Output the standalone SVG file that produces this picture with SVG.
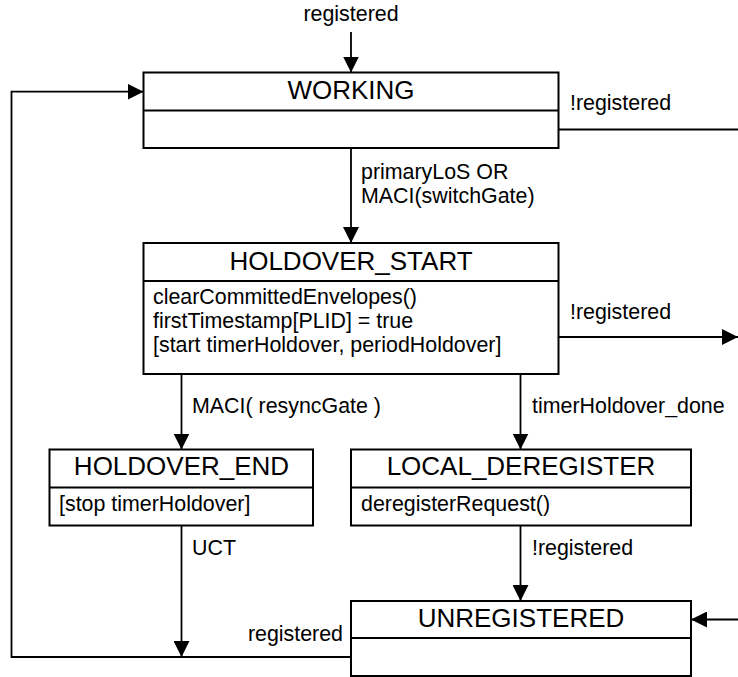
<svg xmlns="http://www.w3.org/2000/svg" width="738" height="677" viewBox="0 0 738 677">
<style>
  .box { fill: #ffffff; stroke: #000000; stroke-width: 2; }
  .div { stroke: #000000; stroke-width: 2; fill: none; }
  .title { font-family: "Liberation Sans", Arial, sans-serif; font-size: 26px; fill: #000000; text-anchor: middle; }
  .txt { font-family: "Liberation Sans", Arial, sans-serif; font-size: 21.4px; fill: #000000; }
  .conn { fill: none; stroke: #000000; stroke-width: 1.8; }
  .arr { marker-end: url(#ah); }
</style>
<defs>
  <marker id="ah" markerUnits="userSpaceOnUse" markerWidth="16" markerHeight="16" viewBox="0 0 16 16" refX="16" refY="8" orient="auto">
    <path d="M0,0 L16,8 L0,16 Z" fill="#000000"/>
  </marker>
</defs>
<rect width="738" height="677" fill="#ffffff"/>

<g id="connectors">
  <path class="conn arr" d="M351,32 L351,72.5"/>
  <path class="conn arr" d="M351,657 L11.5,657 L11.5,91.7 L143.5,91.7"/>
  <path class="conn" d="M558.5,129.5 L738,129.5"/>
  <path class="conn arr" d="M351,148 L351,243"/>
  <path class="conn arr" d="M558.5,337 L738,337"/>
  <path class="conn arr" d="M181.5,374 L181.5,449.5"/>
  <path class="conn arr" d="M520.5,374 L520.5,449.5"/>
  <path class="conn arr" d="M181.5,525.5 L181.5,657"/>
  <path class="conn arr" d="M520.5,525.5 L520.5,601"/>
  <path class="conn arr" d="M738,619.5 L691,619.5"/>
  <text class="txt" x="351" y="21" text-anchor="middle">registered</text>
  <text class="txt" x="570" y="110">!registered</text>
  <text class="txt" x="361" y="179">primaryLoS OR</text>
  <text class="txt" x="361" y="203">MACI(switchGate)</text>
  <text class="txt" x="570" y="319">!registered</text>
  <text class="txt" x="192" y="413">MACI( resyncGate )</text>
  <text class="txt" x="532" y="413">timerHoldover_done</text>
  <text class="txt" x="192" y="555">UCT</text>
  <text class="txt" x="532" y="555">!registered</text>
  <text class="txt" x="343" y="641" text-anchor="end">registered</text>
</g>

<g id="WORKING">
  <rect class="box" x="143.5" y="72.5" width="415" height="75.5"/>
  <line class="div" x1="143.5" y1="110.5" x2="558.5" y2="110.5"/>
  <text class="title" x="351" y="98.5">WORKING</text>
</g>

<g id="HOLDOVER_START">
  <rect class="box" x="143.5" y="243" width="415" height="131"/>
  <line class="div" x1="143.5" y1="281" x2="558.5" y2="281"/>
  <text class="title" x="351" y="269.5">HOLDOVER_START</text>
  <text class="txt" x="153" y="304">clearCommittedEnvelopes()</text>
  <text class="txt" x="153" y="328">firstTimestamp[PLID] = true</text>
  <text class="txt" x="153" y="352">[start timerHoldover, periodHoldover]</text>
</g>

<g id="HOLDOVER_END">
  <rect class="box" x="49.5" y="449.5" width="263.5" height="76"/>
  <line class="div" x1="49.5" y1="487.5" x2="313" y2="487.5"/>
  <text class="title" x="181.5" y="475">HOLDOVER_END</text>
  <text class="txt" x="59" y="511">[stop timerHoldover]</text>
</g>

<g id="LOCAL_DEREGISTER">
  <rect class="box" x="351" y="449.5" width="340" height="76"/>
  <line class="div" x1="351" y1="487.5" x2="691" y2="487.5"/>
  <text class="title" x="521" y="475">LOCAL_DEREGISTER</text>
  <text class="txt" x="361" y="511">deregisterRequest()</text>
</g>

<g id="UNREGISTERED">
  <rect class="box" x="351" y="601" width="340" height="75"/>
  <line class="div" x1="351" y1="638" x2="691" y2="638"/>
  <text class="title" x="521" y="627">UNREGISTERED</text>
</g>
</svg>
